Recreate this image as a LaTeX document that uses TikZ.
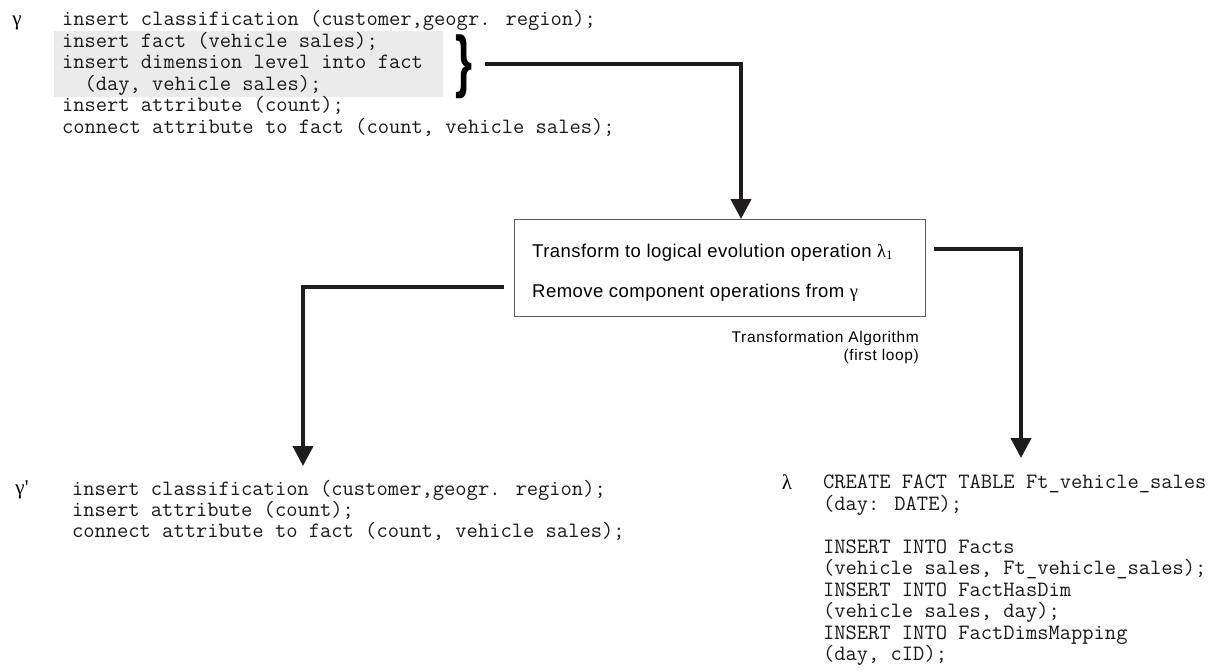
\documentclass[tikz,border=0pt]{standalone}
\usepackage{fontspec}
\setmainfont{Liberation Sans}
\newfontfamily\serf{Liberation Serif}
\newfontfamily\boxf{Liberation Sans}[LetterSpace=2.5]
\newfontfamily\labf{Liberation Sans}[LetterSpace=4]
\newfontfamily\bracef{Liberation Sans}
\usetikzlibrary{arrows.meta}
\definecolor{hl}{RGB}{235,235,235}
\definecolor{ink}{RGB}{30,28,28}
\definecolor{boxgray}{RGB}{90,90,90}
\definecolor{codeink}{RGB}{25,25,25}
\tikzset{
  code/.style={font=\ttfamily\fontsize{21.9pt}{21.7pt}\selectfont, text=codeink, anchor=base west, inner sep=0pt, outer sep=0pt},
  greek/.style={font=\serf\fontsize{21pt}{24pt}\selectfont, anchor=base, inner sep=0pt},
  boxtext/.style={font=\boxf\fontsize{18.5pt}{21pt}\selectfont, anchor=base west, inner sep=0pt},
  labtext/.style={font=\labf\fontsize{15.5pt}{18pt}\selectfont, anchor=base east, inner sep=0pt},
  conn/.style={line width=4pt, draw=ink, -{Triangle[width=20pt,length=20pt]}},
  algbox/.style={draw=boxgray, line width=1pt, minimum width=411pt, minimum height=97pt, inner sep=0pt, anchor=north west},
  hlbox/.style={fill=hl, minimum width=389pt, minimum height=66pt, inner sep=0pt, anchor=north west}
}
\begin{document}
\begin{tikzpicture}[x=1pt,y=-1pt]
\useasboundingbox (0,0) rectangle (1229,670);

% highlight
\node[hlbox] (hl) at (54,31) {};

% gamma block
\node[greek] (gam) at (17,25) {γ};
\node[code] (g1) at (62,25.5) {insert classification (customer,geogr. region);};
\node[code] (g2) at (62,47) {insert fact (vehicle sales);};
\node[code] (g3) at (62,68.5) {insert dimension level into fact};
\node[code] (g4) at (62,90) {\phantom{xx}(day, vehicle sales);};
\node[code] (g5) at (62,111.5) {insert attribute (count);};
\node[code] (g6) at (62,133) {connect attribute to fact (count, vehicle sales);};

% brace
\node[anchor=west, inner sep=0pt, text=black] (brace) at (455,66.5) {\resizebox*{17pt}{64pt}{\bracef\bfseries\}}};

% algorithm box
\node[algbox] (box) at (514,219) {};
\node[boxtext] (t1) at (532,257) {Transform to logical evolution operation {\serf λ\textsubscript{1}}};
\node[boxtext] (t2) at (532,297) {Remove component operations from {\serf γ}};
\node[labtext] (lab1) at (919,342) {Transformation Algorithm};
\node[labtext] (lab2) at (919,360) {(first loop)};

% gamma' block
\node[greek] (gamp) at (22,494) {γ'};
\node[code] (h1) at (72,495.5) {insert classification (customer,geogr. region);};
\node[code] (h2) at (72,516.5) {insert attribute (count);};
\node[code] (h3) at (72,537.5) {connect attribute to fact (count, vehicle sales);};

% lambda block
\node[greek] (lam) at (787,489) {λ};
\node[code] (k1) at (823,488.5) {CREATE FACT TABLE Ft\_vehicle\_sales};
\node[code] (k2) at (823,510) {(day: DATE);};
\node[code] (k3) at (823,553) {INSERT INTO Facts};
\node[code] (k4) at (823,574.5) {(vehicle sales, Ft\_vehicle\_sales);};
\node[code] (k5) at (823,596) {INSERT INTO FactHasDim};
\node[code] (k6) at (823,617.5) {(vehicle sales, day);};
\node[code] (k7) at (823,639) {INSERT INTO FactDimsMapping};
\node[code] (k8) at (823,660.5) {(day, cID);};

% connectors
\coordinate (c0) at (485,64);
\coordinate (c1) at (741,64);
\draw[conn] (c0) -- (c1) -- (c1 |- box.north);

\coordinate (l0) at (504,287);
\coordinate (l1) at (303,287);
\coordinate (l2) at (303,466);
\draw[conn] (l0) -- (l1) -- (l2);

\coordinate (r0) at (934,249);
\coordinate (r1) at (1021,249);
\coordinate (r2) at (1021,458);
\draw[conn] (r0) -- (r1) -- (r2);
\end{tikzpicture}
\end{document}
